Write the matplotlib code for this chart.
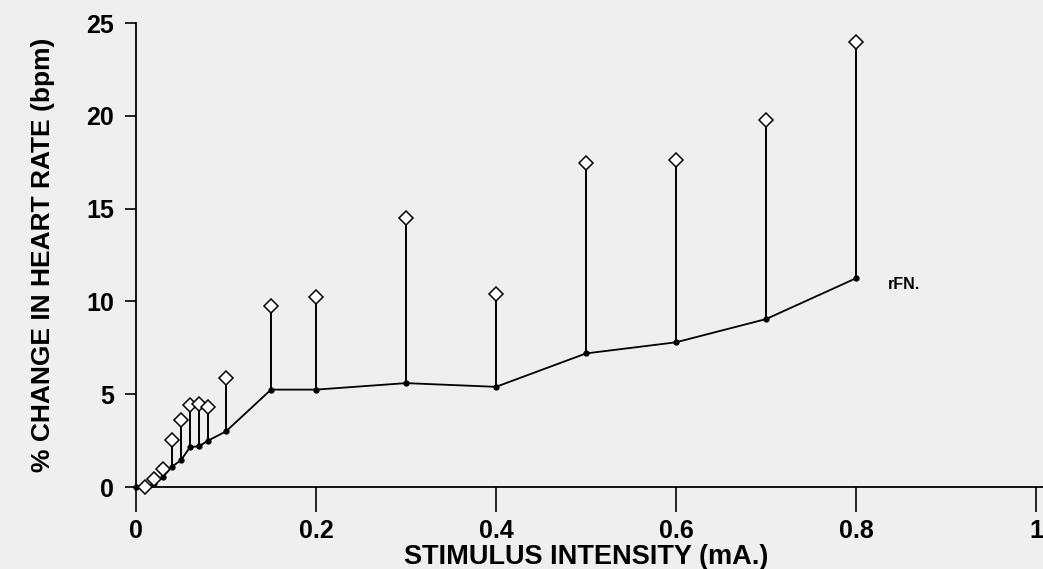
#!/usr/bin/env python3

import numpy as np
import matplotlib.pyplot as plt

# stimulus intensity (mA) and heart-rate change (%)
intensity = [0.0, 0.01, 0.02, 0.03, 0.04, 0.05, 0.06, 0.07, 0.08, 0.10,
             0.15, 0.2, 0.3, 0.4, 0.5, 0.6, 0.7, 0.8]
mean_change = [0.0, 0.0, 0.2, 0.55, 1.1, 1.45, 2.15, 2.2, 2.5, 3.0,
               5.25, 5.25, 5.6, 5.4, 7.2, 7.8, 9.05, 11.25]
upper_change = [np.nan, 0.0, 0.45, 1.0, 2.55, 3.6, 4.4, 4.5, 4.3, 5.9,
                9.75, 10.25, 14.5, 10.4, 17.45, 17.6, 19.75, 24.0]

x_ticks = [0, 0.2, 0.4, 0.6, 0.8, 1.0]
x_tick_labels = ['0', '0.2', '0.4', '0.6', '0.8', '1']
y_ticks = [0, 5, 10, 15, 20, 25]
series_label = 'rFN.'

BG = '#efefef'


def plot():
    fig = plt.figure(figsize=(10.43, 5.69), dpi=100, facecolor=BG)
    ax = fig.add_axes([0.1304, 0.144, 0.8629, 0.8155], facecolor=BG)

    x = np.array(intensity)
    m = np.array(mean_change)
    u = np.array(upper_change)
    has_err = ~np.isnan(u)

    # upward error bars
    ax.vlines(x[has_err], m[has_err], u[has_err], color='black', linewidth=1.4, zorder=2)
    # mean line with small dots
    ax.plot(x, m, color='black', linewidth=1.3, marker='o', markersize=3.5, zorder=3, clip_on=False)
    # open diamonds at top of bars
    ax.plot(x[has_err], u[has_err], linestyle='none', marker='D', markersize=7.5,
            markerfacecolor='white', markeredgecolor='black', markeredgewidth=1.1,
            zorder=4, clip_on=False)

    ax.text(x[-1] + 0.035, m[-1] - 0.35, series_label, fontsize=11.5, fontweight='bold',
            family='Liberation Sans', ha='left', va='center')

    ax.set_xlim(0, 1.0)
    ax.set_ylim(0, 25)
    ax.set_xticks(x_ticks)
    ax.set_xticklabels(x_tick_labels)
    ax.set_yticks(y_ticks)

    for s in ['top', 'right']:
        ax.spines[s].set_visible(False)
    for s in ['left', 'bottom']:
        ax.spines[s].set_linewidth(1.3)
    ax.spines['bottom'].set_bounds(0, 1.008)

    ax.tick_params(axis='x', direction='out', length=18, width=1.2, pad=5)
    ax.tick_params(axis='y', direction='out', length=8, width=1.2, pad=8)
    for lab in ax.get_xticklabels() + ax.get_yticklabels():
        lab.set_family('Liberation Sans')
        lab.set_fontweight('bold')
        lab.set_fontsize(18)

    ax.set_xlabel('STIMULUS INTENSITY (mA.)', fontsize=19.5, fontweight='bold',
                  family='Liberation Sans', labelpad=1)
    ax.set_ylabel('% CHANGE IN HEART RATE (bpm)', fontsize=19, fontweight='bold',
                  family='Liberation Sans', labelpad=22)

    fig.savefig('out.png', dpi=100, facecolor=BG)


def main():
    plot()


if __name__ == '__main__':
    main()
